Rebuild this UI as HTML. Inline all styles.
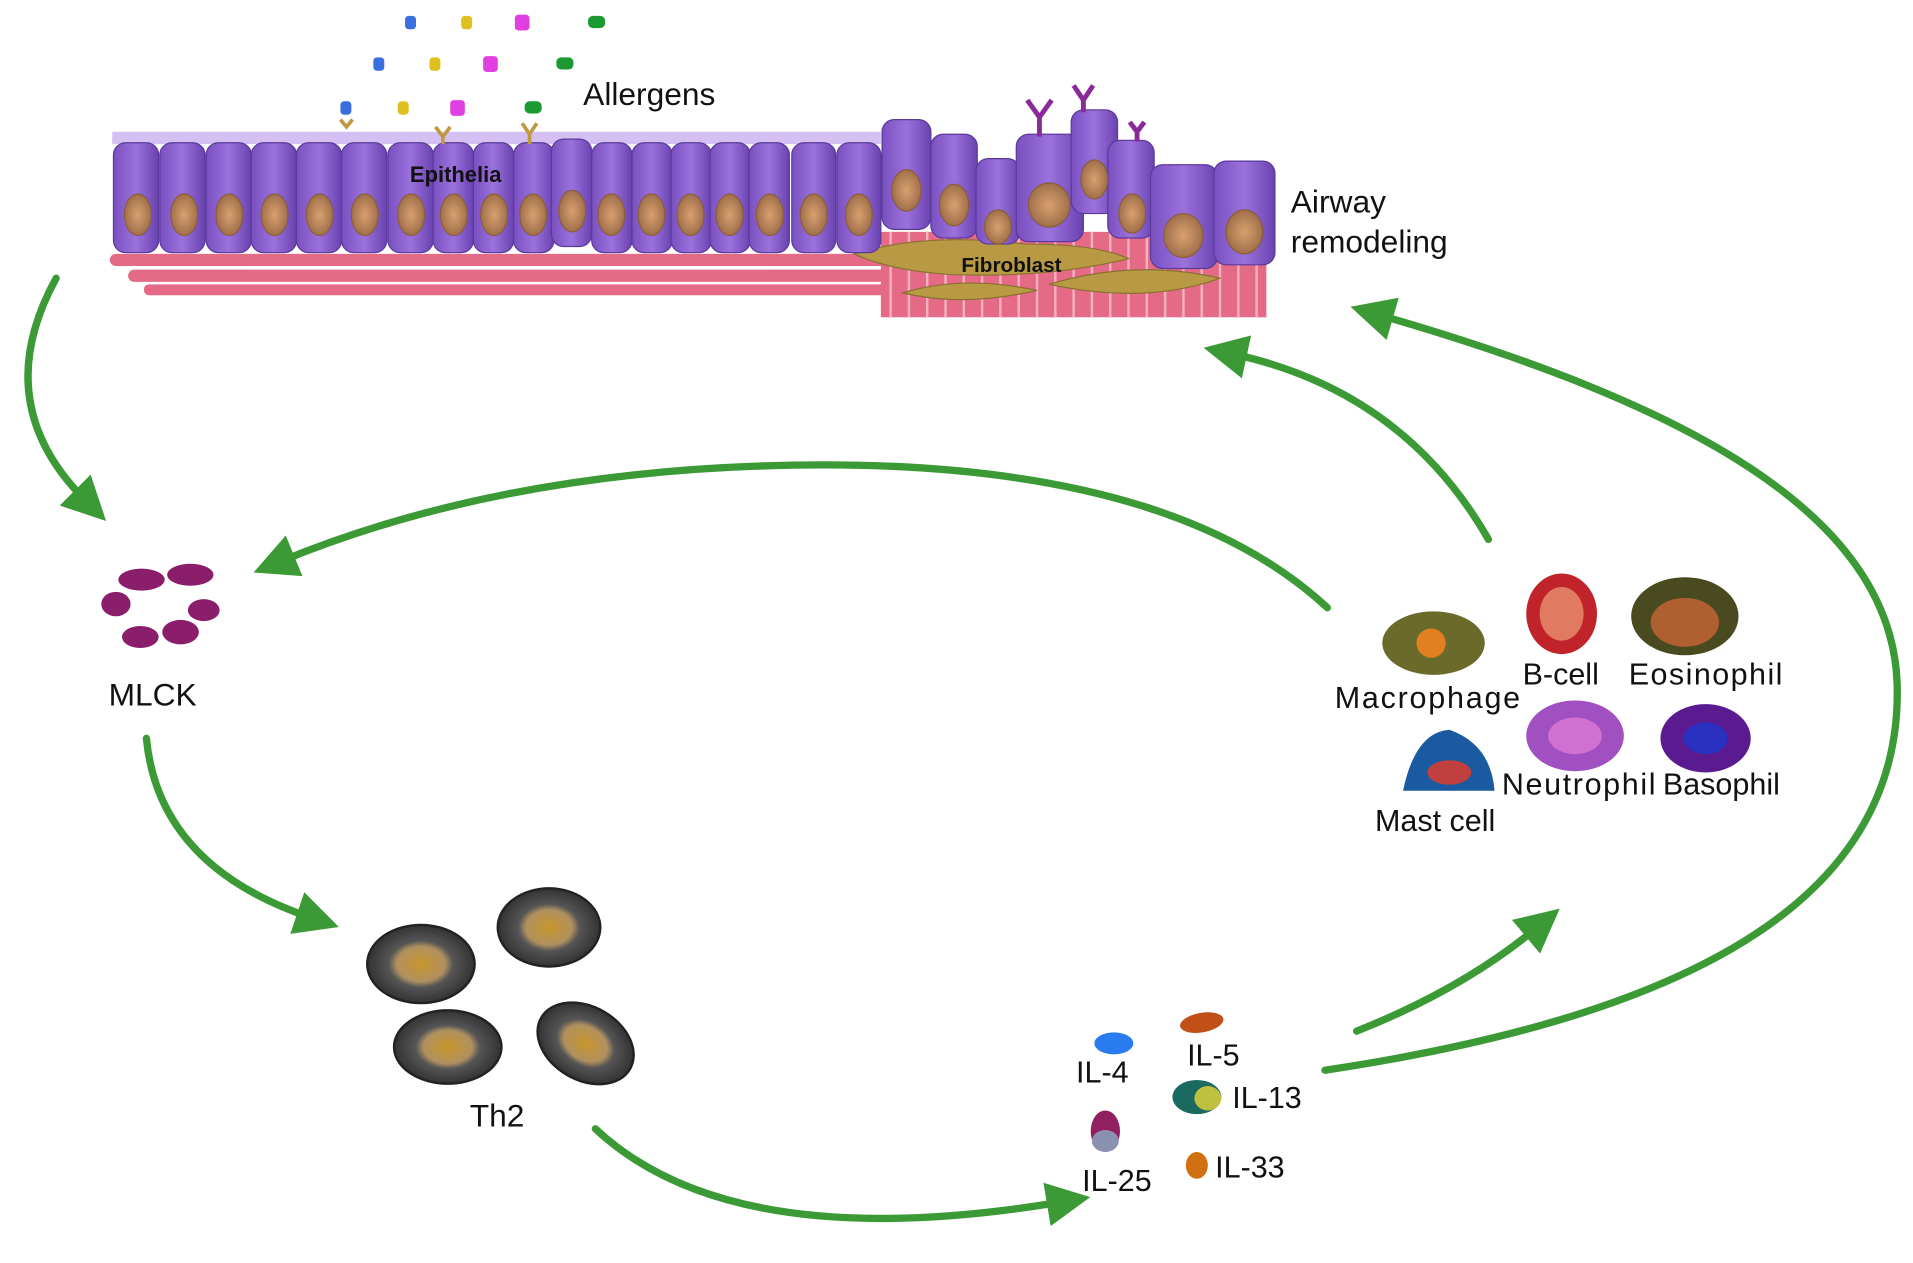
<!DOCTYPE html>
<html><head><meta charset="utf-8"><style>
html,body{margin:0;padding:0;background:#fff;width:1913px;height:1263px;overflow:hidden}
svg{display:block}
text{font-family:"Liberation Sans",sans-serif;fill:#111}
</style></head><body>
<svg width="1913" height="1263" viewBox="0 0 1568 1035" preserveAspectRatio="none">
<defs>
<linearGradient id="cell" x1="0" x2="1"><stop offset="0" stop-color="#7a4fc0"/><stop offset=".5" stop-color="#9b72dc"/><stop offset="1" stop-color="#6a42b0"/></linearGradient>
<radialGradient id="nuc"><stop offset="0" stop-color="#d9a070"/><stop offset="1" stop-color="#a0704a"/></radialGradient>
<radialGradient id="th2"><stop offset="0" stop-color="#c8962a"/><stop offset=".45" stop-color="#b09060"/><stop offset=".6" stop-color="#555"/><stop offset="1" stop-color="#333"/></radialGradient>
<marker id="ah" markerWidth="6" markerHeight="6" refX="2" refY="3" orient="auto" markerUnits="strokeWidth"><path d="M0,0 L6,3 L0,6 Z" fill="#3b9a35"/></marker>
</defs>

<g fill="#e46a86">
<rect x="90" y="208" width="640" height="10" rx="5"/>
<rect x="105" y="221" width="625" height="10" rx="5"/>
<rect x="118" y="233" width="612" height="9" rx="4"/>
<rect x="722" y="190" width="316" height="70"/>
</g>
<g stroke="#f7b0c0" stroke-width="2">
<line x1="730" y1="190" x2="730" y2="260"/><line x1="745" y1="190" x2="745" y2="260"/><line x1="760" y1="190" x2="760" y2="260"/><line x1="775" y1="190" x2="775" y2="260"/><line x1="790" y1="190" x2="790" y2="260"/><line x1="805" y1="190" x2="805" y2="260"/><line x1="820" y1="190" x2="820" y2="260"/><line x1="835" y1="190" x2="835" y2="260"/><line x1="850" y1="190" x2="850" y2="260"/><line x1="865" y1="190" x2="865" y2="260"/><line x1="880" y1="190" x2="880" y2="260"/><line x1="895" y1="190" x2="895" y2="260"/><line x1="910" y1="190" x2="910" y2="260"/><line x1="925" y1="190" x2="925" y2="260"/><line x1="940" y1="190" x2="940" y2="260"/><line x1="955" y1="190" x2="955" y2="260"/><line x1="970" y1="190" x2="970" y2="260"/><line x1="985" y1="190" x2="985" y2="260"/><line x1="1000" y1="190" x2="1000" y2="260"/><line x1="1015" y1="190" x2="1015" y2="260"/><line x1="1030" y1="190" x2="1030" y2="260"/>
</g>
<g fill="#b89a45" stroke="#8a7030">
<path d="M700,208 Q760,190 840,200 Q900,200 925,212 Q860,228 780,225 Q730,222 700,208Z"/>
<path d="M740,240 Q790,225 850,238 Q790,252 740,240Z"/>
<path d="M860,233 Q930,212 1000,228 Q940,250 860,233Z"/>
</g>
<text x="788" y="223" font-size="17" font-weight="bold">Fibroblast</text>

<g fill="#c9b0f0" opacity=".8"><rect x="92" y="108" width="630" height="10"/></g>
<g fill="url(#cell)" stroke="#5a3a9a" stroke-width="1">
<rect x="93" y="117" width="37" height="90" rx="10"/><rect x="131" y="117" width="37" height="90" rx="10"/><rect x="169" y="117" width="37" height="90" rx="10"/><rect x="206" y="117" width="37" height="90" rx="10"/><rect x="243" y="117" width="37" height="90" rx="10"/><rect x="280" y="117" width="37" height="90" rx="10"/><rect x="318" y="117" width="37" height="90" rx="10"/><rect x="355" y="117" width="33" height="90" rx="10"/><rect x="388" y="117" width="33" height="90" rx="10"/><rect x="421" y="117" width="33" height="90" rx="10"/><rect x="452" y="114" width="33" height="88" rx="10"/><rect x="485" y="117" width="33" height="90" rx="10"/><rect x="518" y="117" width="33" height="90" rx="10"/><rect x="550" y="117" width="33" height="90" rx="10"/><rect x="582" y="117" width="33" height="90" rx="10"/><rect x="614" y="117" width="33" height="90" rx="10"/><rect x="649" y="117" width="36" height="90" rx="10"/><rect x="686" y="117" width="36" height="90" rx="10"/>
<rect x="723" y="98" width="40" height="90" rx="10"/><rect x="763" y="110" width="38" height="85" rx="10"/><rect x="800" y="130" width="36" height="70" rx="10"/><rect x="833" y="110" width="55" height="88" rx="10"/><rect x="878" y="90" width="38" height="85" rx="10"/><rect x="908" y="115" width="38" height="80" rx="10"/><rect x="943" y="135" width="55" height="85" rx="10"/><rect x="995" y="132" width="50" height="85" rx="10"/>
</g>
<g fill="url(#nuc)" stroke="#8a5e3a">
<ellipse cx="113" cy="176" rx="11" ry="17"/><ellipse cx="151" cy="176" rx="11" ry="17"/><ellipse cx="188" cy="176" rx="11" ry="17"/><ellipse cx="225" cy="176" rx="11" ry="17"/><ellipse cx="262" cy="176" rx="11" ry="17"/><ellipse cx="299" cy="176" rx="11" ry="17"/><ellipse cx="337" cy="176" rx="11" ry="17"/><ellipse cx="372" cy="176" rx="11" ry="17"/><ellipse cx="405" cy="176" rx="11" ry="17"/><ellipse cx="437" cy="176" rx="11" ry="17"/><ellipse cx="469" cy="173" rx="11" ry="17"/><ellipse cx="501" cy="176" rx="11" ry="17"/><ellipse cx="534" cy="176" rx="11" ry="17"/><ellipse cx="566" cy="176" rx="11" ry="17"/><ellipse cx="598" cy="176" rx="11" ry="17"/><ellipse cx="631" cy="176" rx="11" ry="17"/><ellipse cx="667" cy="176" rx="11" ry="17"/><ellipse cx="704" cy="176" rx="11" ry="17"/>
<ellipse cx="743" cy="156" rx="12" ry="17"/><ellipse cx="782" cy="168" rx="12" ry="17"/><ellipse cx="818" cy="186" rx="11" ry="14"/><ellipse cx="860" cy="168" rx="17" ry="18"/><ellipse cx="897" cy="147" rx="11" ry="16"/><ellipse cx="928" cy="175" rx="11" ry="16"/><ellipse cx="970" cy="193" rx="16" ry="18"/><ellipse cx="1020" cy="190" rx="15" ry="18"/>
</g>
<text x="336" y="149" font-size="18" font-weight="bold" fill="#1a1030">Epithelia</text>

<g fill="#3a6fe0"><rect x="332" y="13" width="9" height="11" rx="3"/><rect x="306" y="47" width="9" height="11" rx="3"/><rect x="279" y="83" width="9" height="11" rx="3"/></g>
<g fill="#e0c020"><rect x="378" y="13" width="9" height="11" rx="3"/><rect x="352" y="47" width="9" height="11" rx="3"/><rect x="326" y="83" width="9" height="11" rx="3"/></g>
<g fill="#e040e0"><rect x="422" y="12" width="12" height="13" rx="3"/><rect x="396" y="46" width="12" height="13" rx="3"/><rect x="369" y="82" width="12" height="13" rx="3"/></g>
<g fill="#1a9a30"><rect x="482" y="13" width="14" height="10" rx="4"/><rect x="456" y="47" width="14" height="10" rx="4"/><rect x="430" y="83" width="14" height="10" rx="4"/></g>
<g stroke="#c09a40" stroke-width="3" fill="none"><path d="M357,104 L363,112 L369,104 M363,112 V118"/><path d="M428,101 L434,110 L440,101 M434,110 V118"/><path d="M279,98 L284,104 L289,98"/></g>
<g stroke="#8a2a9a" stroke-width="4" fill="none"><path d="M842,82 L852,96 L862,82 M852,96 V112"/><path d="M880,70 L888,82 L896,70 M888,82 V92"/><path d="M926,100 L932,108 L938,100 M932,108 V116"/></g>
<text x="478" y="86" font-size="26">Allergens</text>
<text x="1058" y="174" font-size="26">Airway</text>
<text x="1058" y="207" font-size="26">remodeling</text>

<g fill="none" stroke="#3b9a35" stroke-width="6" stroke-linecap="round">
<path d="M46,228 Q-10,330 70,410" marker-end="url(#ah)"/>
<path d="M1088,498 Q950,370 620,382 Q400,390 230,460" marker-end="url(#ah)"/>
<path d="M120,605 Q130,710 255,752" marker-end="url(#ah)"/>
<path d="M488,925 Q600,1030 870,985" marker-end="url(#ah)"/>
<path d="M1112,845 Q1200,810 1260,760" marker-end="url(#ah)"/>
<path d="M1086,877 C1400,830 1560,730 1555,560 C1550,420 1380,330 1130,258" marker-end="url(#ah)"/>
<path d="M1220,442 Q1150,320 1010,290" marker-end="url(#ah)"/>
</g>

<g fill="#8a1e6a">
<ellipse cx="116" cy="475" rx="19" ry="9"/><ellipse cx="156" cy="471" rx="19" ry="9"/><ellipse cx="95" cy="495" rx="12" ry="10"/><ellipse cx="167" cy="500" rx="13" ry="9"/><ellipse cx="115" cy="522" rx="15" ry="9"/><ellipse cx="148" cy="518" rx="15" ry="10"/>
</g>
<text x="89" y="578" font-size="26">MLCK</text>

<g fill="url(#th2)" stroke="#222" stroke-width="2">
<ellipse cx="345" cy="790" rx="44" ry="32"/><ellipse cx="450" cy="760" rx="42" ry="32"/><ellipse cx="367" cy="858" rx="44" ry="30"/><ellipse cx="480" cy="855" rx="42" ry="30" transform="rotate(30 480 855)"/>
</g>
<text x="385" y="923" font-size="26">Th2</text>

<ellipse cx="1175" cy="527" rx="42" ry="26" fill="#6a6a2a"/><circle cx="1173" cy="527" r="12" fill="#e08020"/>
<ellipse cx="1280" cy="503" rx="29" ry="33" fill="#c0242a"/><ellipse cx="1280" cy="503" rx="18" ry="22" fill="#e07a60"/>
<ellipse cx="1381" cy="505" rx="44" ry="32" fill="#4a4a20"/><ellipse cx="1381" cy="510" rx="28" ry="20" fill="#b06030"/>
<path d="M1150,648 Q1160,600 1188,598 Q1222,610 1225,648 Z" fill="#1a5aa0"/><ellipse cx="1188" cy="633" rx="18" ry="10" fill="#c04040"/>
<ellipse cx="1291" cy="603" rx="40" ry="29" fill="#a050c0"/><ellipse cx="1291" cy="603" rx="22" ry="15" fill="#d070d0"/>
<ellipse cx="1398" cy="605" rx="37" ry="28" fill="#5a1a90"/><ellipse cx="1398" cy="605" rx="18" ry="13" fill="#2a30c0"/>
<g font-size="25">
<text x="1094" y="580" textLength="152">Macrophage</text><text x="1248" y="561">B-cell</text><text x="1335" y="561" textLength="126">Eosinophil</text>
<text x="1231" y="651" textLength="126">Neutrophil</text><text x="1363" y="651">Basophil</text><text x="1127" y="681">Mast cell</text>
</g>

<ellipse cx="913" cy="855" rx="16" ry="9" fill="#2a7af0"/>
<ellipse cx="985" cy="838" rx="18" ry="8" fill="#c05018" transform="rotate(-10 985 838)"/>
<ellipse cx="981" cy="899" rx="20" ry="14" fill="#1a6a60"/><ellipse cx="990" cy="900" rx="11" ry="10" fill="#c0c040"/>
<ellipse cx="906" cy="927" rx="12" ry="17" fill="#902060"/><ellipse cx="906" cy="935" rx="11" ry="9" fill="#8a90b0"/>
<ellipse cx="981" cy="955" rx="9" ry="11" fill="#d07010"/>
<g font-size="25">
<text x="882" y="887">IL-4</text><text x="973" y="873">IL-5</text><text x="1010" y="908">IL-13</text>
<text x="887" y="976">IL-25</text><text x="996" y="965">IL-33</text>
</g>
</svg>
</body></html>
